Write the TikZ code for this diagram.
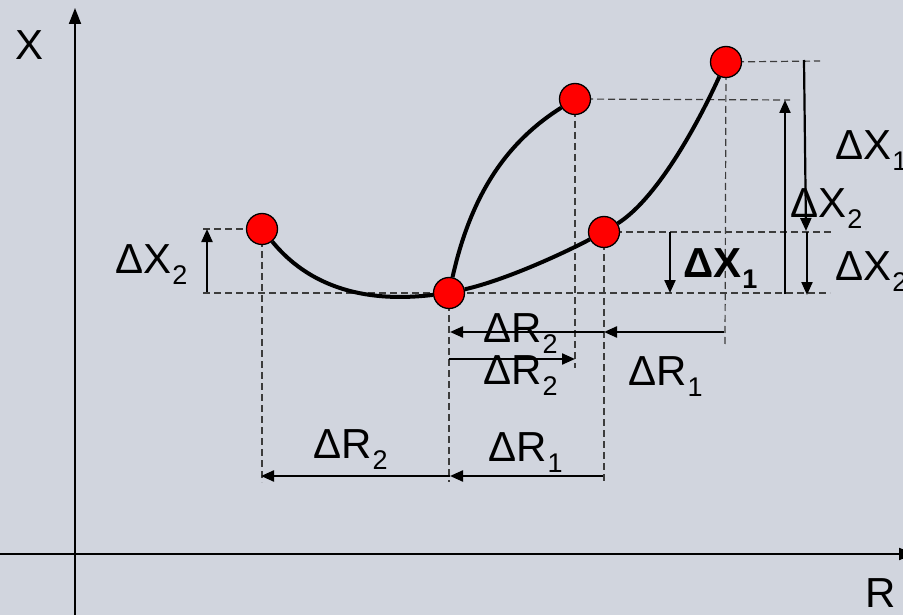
\documentclass[tikz,border=0pt]{standalone}
\usepackage{fontspec}
\setmainfont{Liberation Sans}
\usetikzlibrary{arrows.meta}
\definecolor{bgc}{RGB}{209,213,222}
\definecolor{dashgray}{RGB}{60,60,60}
\newcommand{\dlab}[2]{\fontsize{42}{42}\selectfont Δ#1\kern1pt\raisebox{-11pt}{\fontsize{27}{27}\selectfont #2}}
\newcommand{\dlabb}[2]{\fontsize{42}{42}\selectfont\bfseries Δ#1\kern1pt\raisebox{-11pt}{\fontsize{27}{27}\selectfont #2}}
\begin{document}
\begin{tikzpicture}[x=1pt,y=-1pt,
  dot/.style={circle,draw=black,line width=1.3pt,fill=red,minimum size=31pt,inner sep=0pt},
  curve/.style={line width=4pt},
  guide/.style={draw=dashgray,dash pattern=on 7pt off 4pt,line width=1.2pt},
  dim/.style={line width=2.2pt,-{Triangle[length=13pt,width=11pt]}},
  axis/.style={line width=1.8pt,-{Triangle[length=16pt,width=12pt]}},
  lab/.style={anchor=base west,inner sep=0pt,text=black}]
\fill[bgc] (0,0) rectangle (903,615);
\useasboundingbox (0,0) rectangle (903,615);
% centers
\coordinate (c1) at (262,229);
\coordinate (c0) at (449,293);
\coordinate (c2) at (604,232);
\coordinate (c3) at (575,99);
\coordinate (c4) at (726,62);
% axes
\coordinate (xb) at (75,615);
\coordinate (xt) at (75,8);
\coordinate (rl) at (0,554);
\coordinate (rr) at (915,554);
\draw[axis] (xb) -- (xt);
\draw[axis] (rl) -- (rr);
\node[lab] (xlab) at (15,60) {\fontsize{42}{42}\selectfont X};
\node[lab] (rlab) at (865,607) {\fontsize{42}{42}\selectfont R};
% guide lines
\coordinate (g1l) at (203,229);
\coordinate (g0l) at (203,293);
\coordinate (g0r) at (830,293);
\coordinate (g2r) at (832,232);
\coordinate (g3r) at (790,100);
\coordinate (g4r) at (820,61);
\coordinate (v1) at (262,482);
\coordinate (v0) at (449,482);
\coordinate (v2) at (604,482);
\coordinate (v3) at (575,368);
\coordinate (v4) at (725,346);
\draw[guide] (g1l) -- (c1);
\draw[guide] (g0l) -- (g0r);
\draw[guide] (c2) -- (g2r);
\draw[guide] (c3) -- (g3r);
\draw[guide] (c4) -- (g4r);
\draw[guide] (c1) -- (v1);
\draw[guide] (c0) -- (v0);
\draw[guide] (c2) -- (v2);
\draw[guide] (c3) -- (v3);
\draw[guide] (c4) -- (v4);
% points
\node[dot] (p1) at (c1) {};
\node[dot] (p0) at (c0) {};
\node[dot] (p2) at (c2) {};
\node[dot] (p3) at (c3) {};
\node[dot] (p4) at (c4) {};
% curves
\draw[curve] (p1) .. controls (320,300) and (390,300) .. (p0);
\draw[curve] (p0) .. controls (472,190) and (510,140) .. (p3);
\draw[curve] (p0) .. controls (505,280) and (560,255) .. (p2);
\draw[curve] (p2) .. controls (655,200) and (695,130) .. (p4);
% vertical dimension arrows
\coordinate (a1b) at (207,292);
\coordinate (a1t) at (207,229);
\draw[dim] (a1b) -- (a1t);
\coordinate (a2t) at (670,232);
\coordinate (a2b) at (670,293);
\draw[dim] (a2t) -- (a2b);
\coordinate (a3b) at (785,294);
\coordinate (a3t) at (785,100);
\draw[dim] (a3b) -- (a3t);
\coordinate (a4t) at (804,60);
\coordinate (a4b) at (806,231);
\draw[dim] (a4t) -- (a4b);
\coordinate (a5t) at (807,232);
\coordinate (a5b) at (807,295);
\draw[dim] (a5t) -- (a5b);
% horizontal dimension arrows
\coordinate (h1r) at (724,332);
\coordinate (h1m) at (604,332);
\coordinate (h1l) at (450,332);
\draw[dim] (h1r) -- (h1m);
\draw[dim] (h1m) -- (h1l);
\coordinate (h2l) at (449,359);
\coordinate (h2r) at (575,359);
\draw[dim] (h2l) -- (h2r);
\coordinate (h3r) at (603,476);
\coordinate (h3m) at (450,476);
\coordinate (h3l) at (261,476);
\draw[dim] (h3r) -- (h3m);
\draw[dim] (h3m) -- (h3l);
% labels
\node[lab] (lx2a) at (115,273) {\dlab{X}{2}};
\node[lab] (lx1a) at (835,160) {\dlab{X}{1}};
\node[lab] (lx2b) at (790,218) {\dlab{X}{2}};
\node[lab] (lx2c) at (835,280) {\dlab{X}{2}};
\node[lab] (lx1b) at (683,277) {\dlabb{X}{1}};
\node[lab] (lr2a) at (483,342) {\dlab{R}{2}};
\node[lab] (lr2b) at (483,384) {\dlab{R}{2}};
\node[lab] (lr1a) at (628,385) {\dlab{R}{1}};
\node[lab] (lr2c) at (313,458) {\dlab{R}{2}};
\node[lab] (lr1b) at (488,461) {\dlab{R}{1}};
\end{tikzpicture}
\end{document}
